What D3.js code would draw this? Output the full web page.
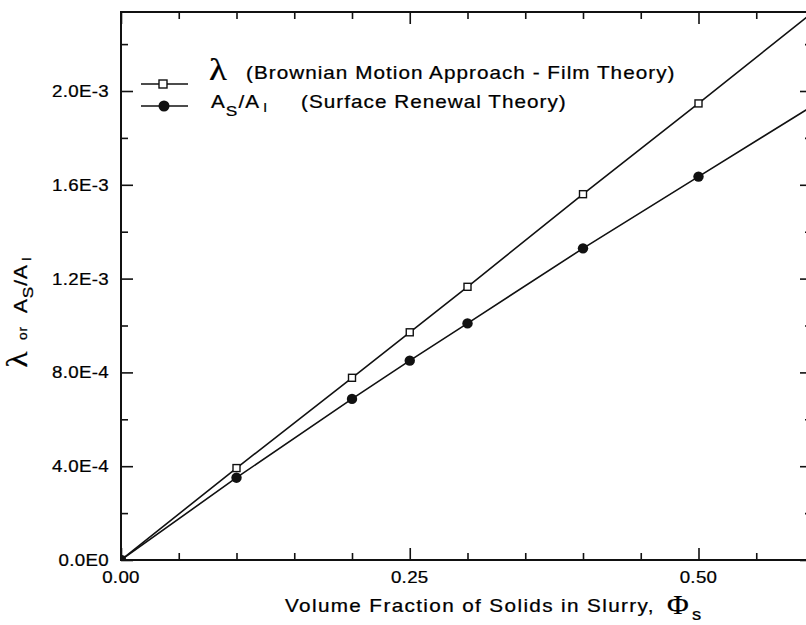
<!DOCTYPE html>
<html>
<head>
<meta charset="utf-8">
<script src="https://cdn.jsdelivr.net/npm/d3@7"></script>
<style>
  body { margin: 0; background: #fff; }
  text { font-family: "Liberation Sans", Arial, sans-serif; fill: #000; stroke: #000; stroke-width: 0.25px; }
  .serif { font-family: "Liberation Serif", "DejaVu Serif", serif; }
</style>
</head>
<body>
<div id="chart"></div>
<script>
// volume fraction of solids
var phi = [0, 0.1, 0.2, 0.25, 0.3, 0.4, 0.5, 0.6];
// lambda (Brownian motion approach - film theory)
var lambdaVals = [0, 3.92e-4, 7.77e-4, 9.71e-4, 1.165e-3, 1.56e-3, 1.947e-3, 2.34e-3];
// As/Al (surface renewal theory)
var ratioVals = [0, 3.51e-4, 6.87e-4, 8.5e-4, 1.009e-3, 1.329e-3, 1.635e-3, 1.94e-3];

var xMajor = [0, 0.25, 0.5];
var xMinor = [0.05, 0.1, 0.15, 0.2, 0.3, 0.35, 0.4, 0.45, 0.55];
var yMajor = [0, 4e-4, 8e-4, 1.2e-3, 1.6e-3, 2.0e-3];
var yMinor = [2e-4, 6e-4, 1.0e-3, 1.4e-3, 1.8e-3, 2.2e-3];

(function () {
var width = 806, height = 625;
var m = {left: 121, right: 814, top: 12, bottom: 560};

var svg = d3.select('#chart').append('svg')
    .attr('width', width)
    .attr('height', height);

var x = d3.scaleLinear().domain([0, 0.6]).range([m.left, m.right]);
// y(0)=560, y(2e-3)=91
var yPerUnit = (560 - 91) / 2e-3;
var y = d3.scaleLinear().domain([0, (m.bottom - m.top) / yPerUnit]).range([m.bottom, m.top]);

svg.append('clipPath').attr('id', 'plot-clip')
    .append('rect')
    .attr('x', m.left).attr('y', m.top)
    .attr('width', m.right - m.left).attr('height', m.bottom - m.top);

function tickFmtY(v) { return v === 0 ? '0.0E0' : d3.format('.1e')(v).toUpperCase(); }

// the scanned lettering is wide, so text is stretched a bit horizontally
function label(parent, tx, ty, sx, extra) {
    return parent.append('g')
        .attr('transform', 'translate(' + tx + ',' + ty + ')' + (extra || '') + ' scale(' + sx + ',1)')
        .append('text');
}

// ticks, all pointing inside the frame
function ticks(axisFn, pos, vals, len) {
    svg.append('g').attr('transform', pos)
        .call(axisFn.tickValues(vals).tickSizeInner(-len).tickSizeOuter(0).tickFormat(''));
}
ticks(d3.axisBottom(x), 'translate(0,' + m.bottom + ')', xMajor, 12);
ticks(d3.axisBottom(x), 'translate(0,' + m.bottom + ')', xMinor, 7);
ticks(d3.axisTop(x), 'translate(0,' + m.top + ')', xMajor, 12);
ticks(d3.axisTop(x), 'translate(0,' + m.top + ')', xMinor, 7);
ticks(d3.axisLeft(y), 'translate(' + m.left + ',0)', yMajor, 12);
ticks(d3.axisLeft(y), 'translate(' + m.left + ',0)', yMinor, 7);
ticks(d3.axisRight(y), 'translate(' + m.right + ',0)', yMajor, 14);
ticks(d3.axisRight(y), 'translate(' + m.right + ',0)', yMinor, 9);

svg.selectAll('.domain').remove();
svg.selectAll('.tick line').attr('stroke', '#111').attr('stroke-width', 1.6);
svg.selectAll('.tick text').remove();

// frame
svg.append('rect')
    .attr('x', m.left).attr('y', m.top)
    .attr('width', m.right - m.left).attr('height', m.bottom - m.top)
    .attr('fill', 'none').attr('stroke', '#111').attr('stroke-width', 2);

// tick labels
yMajor.forEach(function (d) {
    label(svg, 109, y(d) + 6, 1.1)
        .attr('text-anchor', 'end')
        .style('font-size', '17px')
        .style('letter-spacing', '0.3px')
        .text(tickFmtY(d));
});
xMajor.forEach(function (d) {
    label(svg, x(d), 583, 1.1)
        .attr('text-anchor', 'middle')
        .style('font-size', '17px')
        .style('letter-spacing', '0.3px')
        .text(d3.format('.2f')(d));
});

// series lines
var line = d3.line()
    .x(function (d) { return x(d[0]); })
    .y(function (d) { return y(d[1]); });

var lambdaPts = phi.map(function (p, i) { return [p, lambdaVals[i]]; });
var ratioPts = phi.map(function (p, i) { return [p, ratioVals[i]]; });

var plot = svg.append('g').attr('clip-path', 'url(#plot-clip)');

plot.append('path').datum(lambdaPts)
    .attr('d', line).attr('fill', 'none')
    .attr('stroke', '#111').attr('stroke-width', 1.6);
plot.append('path').datum(ratioPts)
    .attr('d', line).attr('fill', 'none')
    .attr('stroke', '#111').attr('stroke-width', 1.6);

plot.selectAll('.sq').data(lambdaPts).enter().append('rect')
    .attr('class', 'sq')
    .attr('x', function (d) { return x(d[0]) - 3.5; })
    .attr('y', function (d) { return y(d[1]) - 3.5; })
    .attr('width', 7).attr('height', 7)
    .attr('fill', '#fff').attr('stroke', '#111').attr('stroke-width', 1.4);

plot.selectAll('.dot').data(ratioPts).enter().append('circle')
    .attr('class', 'dot')
    .attr('cx', function (d) { return x(d[0]); })
    .attr('cy', function (d) { return y(d[1]); })
    .attr('r', 5.2)
    .attr('fill', '#111');

// legend
var leg = svg.append('g');
leg.append('line').attr('x1', 141).attr('x2', 188).attr('y1', 84).attr('y2', 84)
    .attr('stroke', '#111').attr('stroke-width', 1.6);
leg.append('rect').attr('x', 159).attr('y', 80).attr('width', 8).attr('height', 8)
    .attr('fill', '#fff').attr('stroke', '#111').attr('stroke-width', 1.4);
leg.append('line').attr('x1', 141).attr('x2', 188).attr('y1', 106).attr('y2', 106)
    .attr('stroke', '#111').attr('stroke-width', 1.6);
leg.append('circle').attr('cx', 164).attr('cy', 106).attr('r', 5.5).attr('fill', '#111');

label(leg, 209, 80, 1.15).attr('class', 'serif')
    .style('font-size', '32px')
    .text('λ');
label(leg, 246, 79, 1.15)
    .style('font-size', '18px')
    .style('letter-spacing', '0.9px')
    .text('(Brownian Motion Approach - Film Theory)');

var t2 = label(leg, 211, 108, 1.15)
    .style('font-size', '18px')
    .style('letter-spacing', '0.9px');
t2.append('tspan').text('A');
t2.append('tspan').attr('dy', 8).style('font-size', '15px').text('S');
t2.append('tspan').attr('dy', -8).text('/A');
t2.append('tspan').attr('dx', 3).attr('dy', 4).style('font-size', '13px').text('l');
label(leg, 301, 108, 1.15)
    .style('font-size', '18px')
    .style('letter-spacing', '0.9px')
    .text('(Surface Renewal Theory)');

// x axis title
label(svg, 285, 612, 1.15)
    .style('font-size', '18px')
    .style('letter-spacing', '1.2px')
    .text('Volume Fraction of Solids in Slurry,');
label(svg, 667, 614, 1.1).attr('class', 'serif')
    .style('font-size', '27px')
    .text('Φ');
label(svg, 692, 620, 1.15)
    .style('font-size', '16px')
    .text('s');

// y axis title
var yt = label(svg, 27, 312, 1.15, ' rotate(-90)')
    .attr('text-anchor', 'middle')
    .style('font-size', '18px')
    .style('letter-spacing', '0.9px');
yt.append('tspan').attr('class', 'serif')
    .style('font-size', '29px')
    .text('λ');
yt.append('tspan').attr('dx', 9).style('font-size', '12px').text('or');
yt.append('tspan').attr('dx', 11).text('A');
yt.append('tspan').attr('dy', 6).style('font-size', '15px').text('S');
yt.append('tspan').attr('dy', -6).text('/A');
yt.append('tspan').attr('dx', 3).attr('dy', 4).style('font-size', '13px').text('l');
})();
</script>
</body>
</html>
